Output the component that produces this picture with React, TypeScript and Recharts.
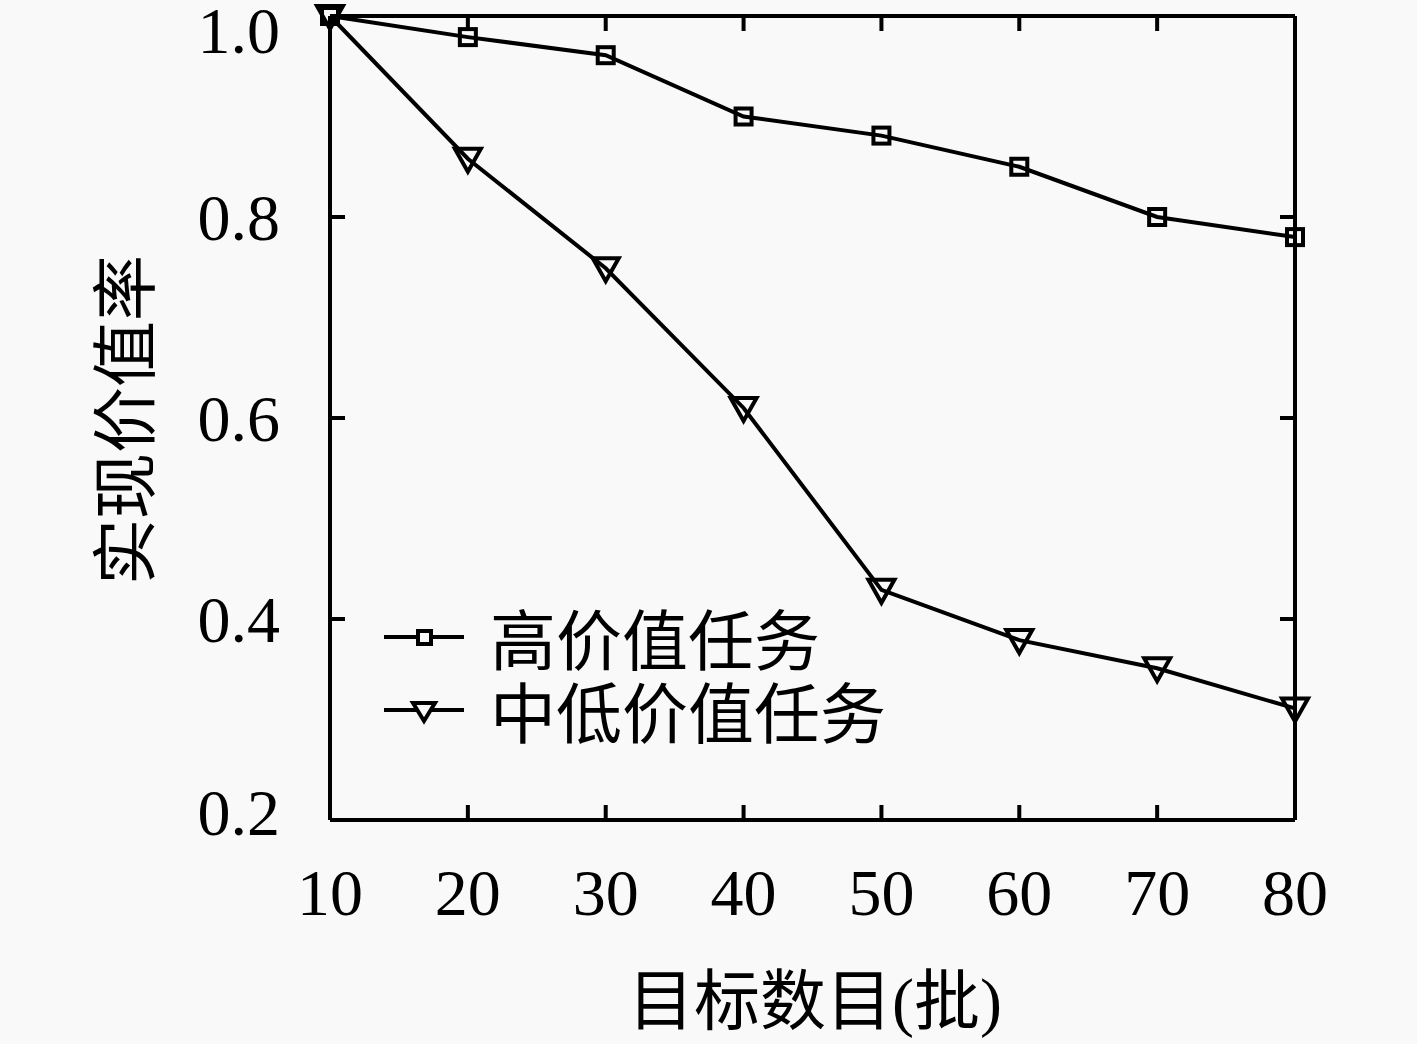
import React from 'react';
import { LineChart, Line, XAxis, YAxis } from 'recharts';

const targets = [10, 20, 30, 40, 50, 60, 70, 80];
const highValue = [1.0, 0.979, 0.961, 0.9, 0.881, 0.85, 0.8, 0.78];
const lowValue = [1.0, 0.858, 0.749, 0.61, 0.429, 0.379, 0.351, 0.311];
const yTicks = [0.2, 0.4, 0.6, 0.8, 1.0];
const seriesNames = ['高价值任务', '中低价值任务'];

const data = targets.map((t, i) => ({ t, high: highValue[i], low: lowValue[i] }));

const FONT = '"Liberation Serif", "Noto Sans CJK SC", serif';
const CJK = '"Noto Sans CJK SC", serif';
const SW = 4;

const SquareDot = (props: any) => {
  const { cx, cy } = props;
  if (cx == null || cy == null) return null;
  return <rect key={`s-${cx}`} x={cx - 8} y={cy - 8} width={16} height={16} fill="none" stroke="#000" strokeWidth={SW} />;
};

const TriDot = (props: any) => {
  const { cx, cy } = props;
  if (cx == null || cy == null) return null;
  return (
    <path
      key={`t-${cx}`}
      d={`M${cx - 13},${cy - 10} L${cx + 13},${cy - 10} L${cx},${cy + 13} Z`}
      fill="none"
      stroke="#000"
      strokeWidth={SW}
    />
  );
};

const NoTick = () => <g />;

// tick labels drawn by hand so they sit where the reference puts them
const XTickLabel = (props: any) => {
  const { x, payload } = props;
  return (
    <text x={x} y={820 + 72} dy="0.35em" textAnchor="middle" fontSize={66} fontFamily={FONT} fill="#000">
      {payload.value}
    </text>
  );
};

const YTickLabel = (props: any) => {
  const { y, payload } = props;
  // keep end labels inside the page like the reference does
  const ty = Math.min(Math.max(y, 30), 812);
  return (
    <text x={280} y={ty} dy="0.35em" textAnchor="end" fontSize={66} fontFamily={FONT} fill="#000">
      {Number(payload.value).toFixed(1)}
    </text>
  );
};

const LegendBox = () => (
  <div style={{ fontFamily: CJK, fontSize: 66, color: '#000', lineHeight: '73px' }}>
    {seriesNames.map((name, i) => (
      <div key={name} style={{ display: 'flex', alignItems: 'center' }}>
        <svg width={90} height={40} style={{ marginRight: 18 }}>
          <line x1={2} y1={20} x2={82} y2={20} stroke="#000" strokeWidth={SW} />
          {i === 0 ? (
            <rect x={36} y={14} width={13} height={13} fill="#f9f9f9" stroke="#000" strokeWidth={SW} />
          ) : (
            <path d="M31,13 L53,13 L42,31 Z" fill="#f9f9f9" stroke="#000" strokeWidth={SW} />
          )}
        </svg>
        <span>{name}</span>
      </div>
    ))}
  </div>
);

const frame = { stroke: '#000', strokeWidth: SW };

const App: React.FC = () => {
  return (
    <div style={{ position: 'absolute', left: 0, top: 0, width: 1417, height: 1044, background: '#f9f9f9', fontFamily: FONT }}>
      <LineChart width={1417} height={1044} data={data} margin={{ top: 16, right: 122, bottom: 104, left: 0 }}>
        {/* label axes */}
        <XAxis dataKey="t" type="number" domain={[10, 80]} ticks={targets} height={120} tickLine={false} axisLine={frame} tick={XTickLabel} />
        <YAxis type="number" domain={[0.2, 1.0]} ticks={yTicks} width={330} tickLine={false} axisLine={frame} tick={YTickLabel} />
        {/* inward tick marks and frame */}
        <XAxis xAxisId="bin" dataKey="t" type="number" domain={[10, 80]} ticks={targets} mirror tick={NoTick} tickSize={15} axisLine={false} tickLine={frame} />
        <XAxis xAxisId="top" orientation="top" dataKey="t" type="number" domain={[10, 80]} ticks={targets} mirror tick={NoTick} tickSize={15} axisLine={frame} tickLine={frame} />
        <YAxis yAxisId="lin" type="number" domain={[0.2, 1.0]} ticks={yTicks} mirror tick={NoTick} tickSize={15} axisLine={false} tickLine={frame} />
        <YAxis yAxisId="right" orientation="right" type="number" domain={[0.2, 1.0]} ticks={yTicks} mirror tick={NoTick} tickSize={15} axisLine={frame} tickLine={frame} />
        <Line xAxisId="bin" yAxisId="lin" dataKey="high" stroke="none" dot={false} activeDot={false} legendType="none" isAnimationActive={false} />
        <Line xAxisId="top" yAxisId="right" dataKey="low" stroke="none" dot={false} activeDot={false} legendType="none" isAnimationActive={false} />
        <Line dataKey="high" name={seriesNames[0]} stroke="#000" strokeWidth={SW} dot={SquareDot} activeDot={false} isAnimationActive={false} />
        <Line dataKey="low" name={seriesNames[1]} stroke="#000" strokeWidth={SW} dot={TriDot} activeDot={false} isAnimationActive={false} />
      </LineChart>
      <div style={{ position: 'absolute', left: 382, top: 600 }}>
        <LegendBox />
      </div>
      <div style={{ position: 'absolute', left: 120, top: 420, transform: 'translate(-50%, -50%) rotate(-90deg)', fontFamily: CJK, fontSize: 66, whiteSpace: 'nowrap', color: '#000' }}>
        实现价值率
      </div>
      <div style={{ position: 'absolute', left: 815, top: 995, transform: 'translate(-50%, -50%)', fontFamily: FONT, fontSize: 66, whiteSpace: 'nowrap', color: '#000' }}>
        目标数目(批)
      </div>
    </div>
  );
};

export default App;
